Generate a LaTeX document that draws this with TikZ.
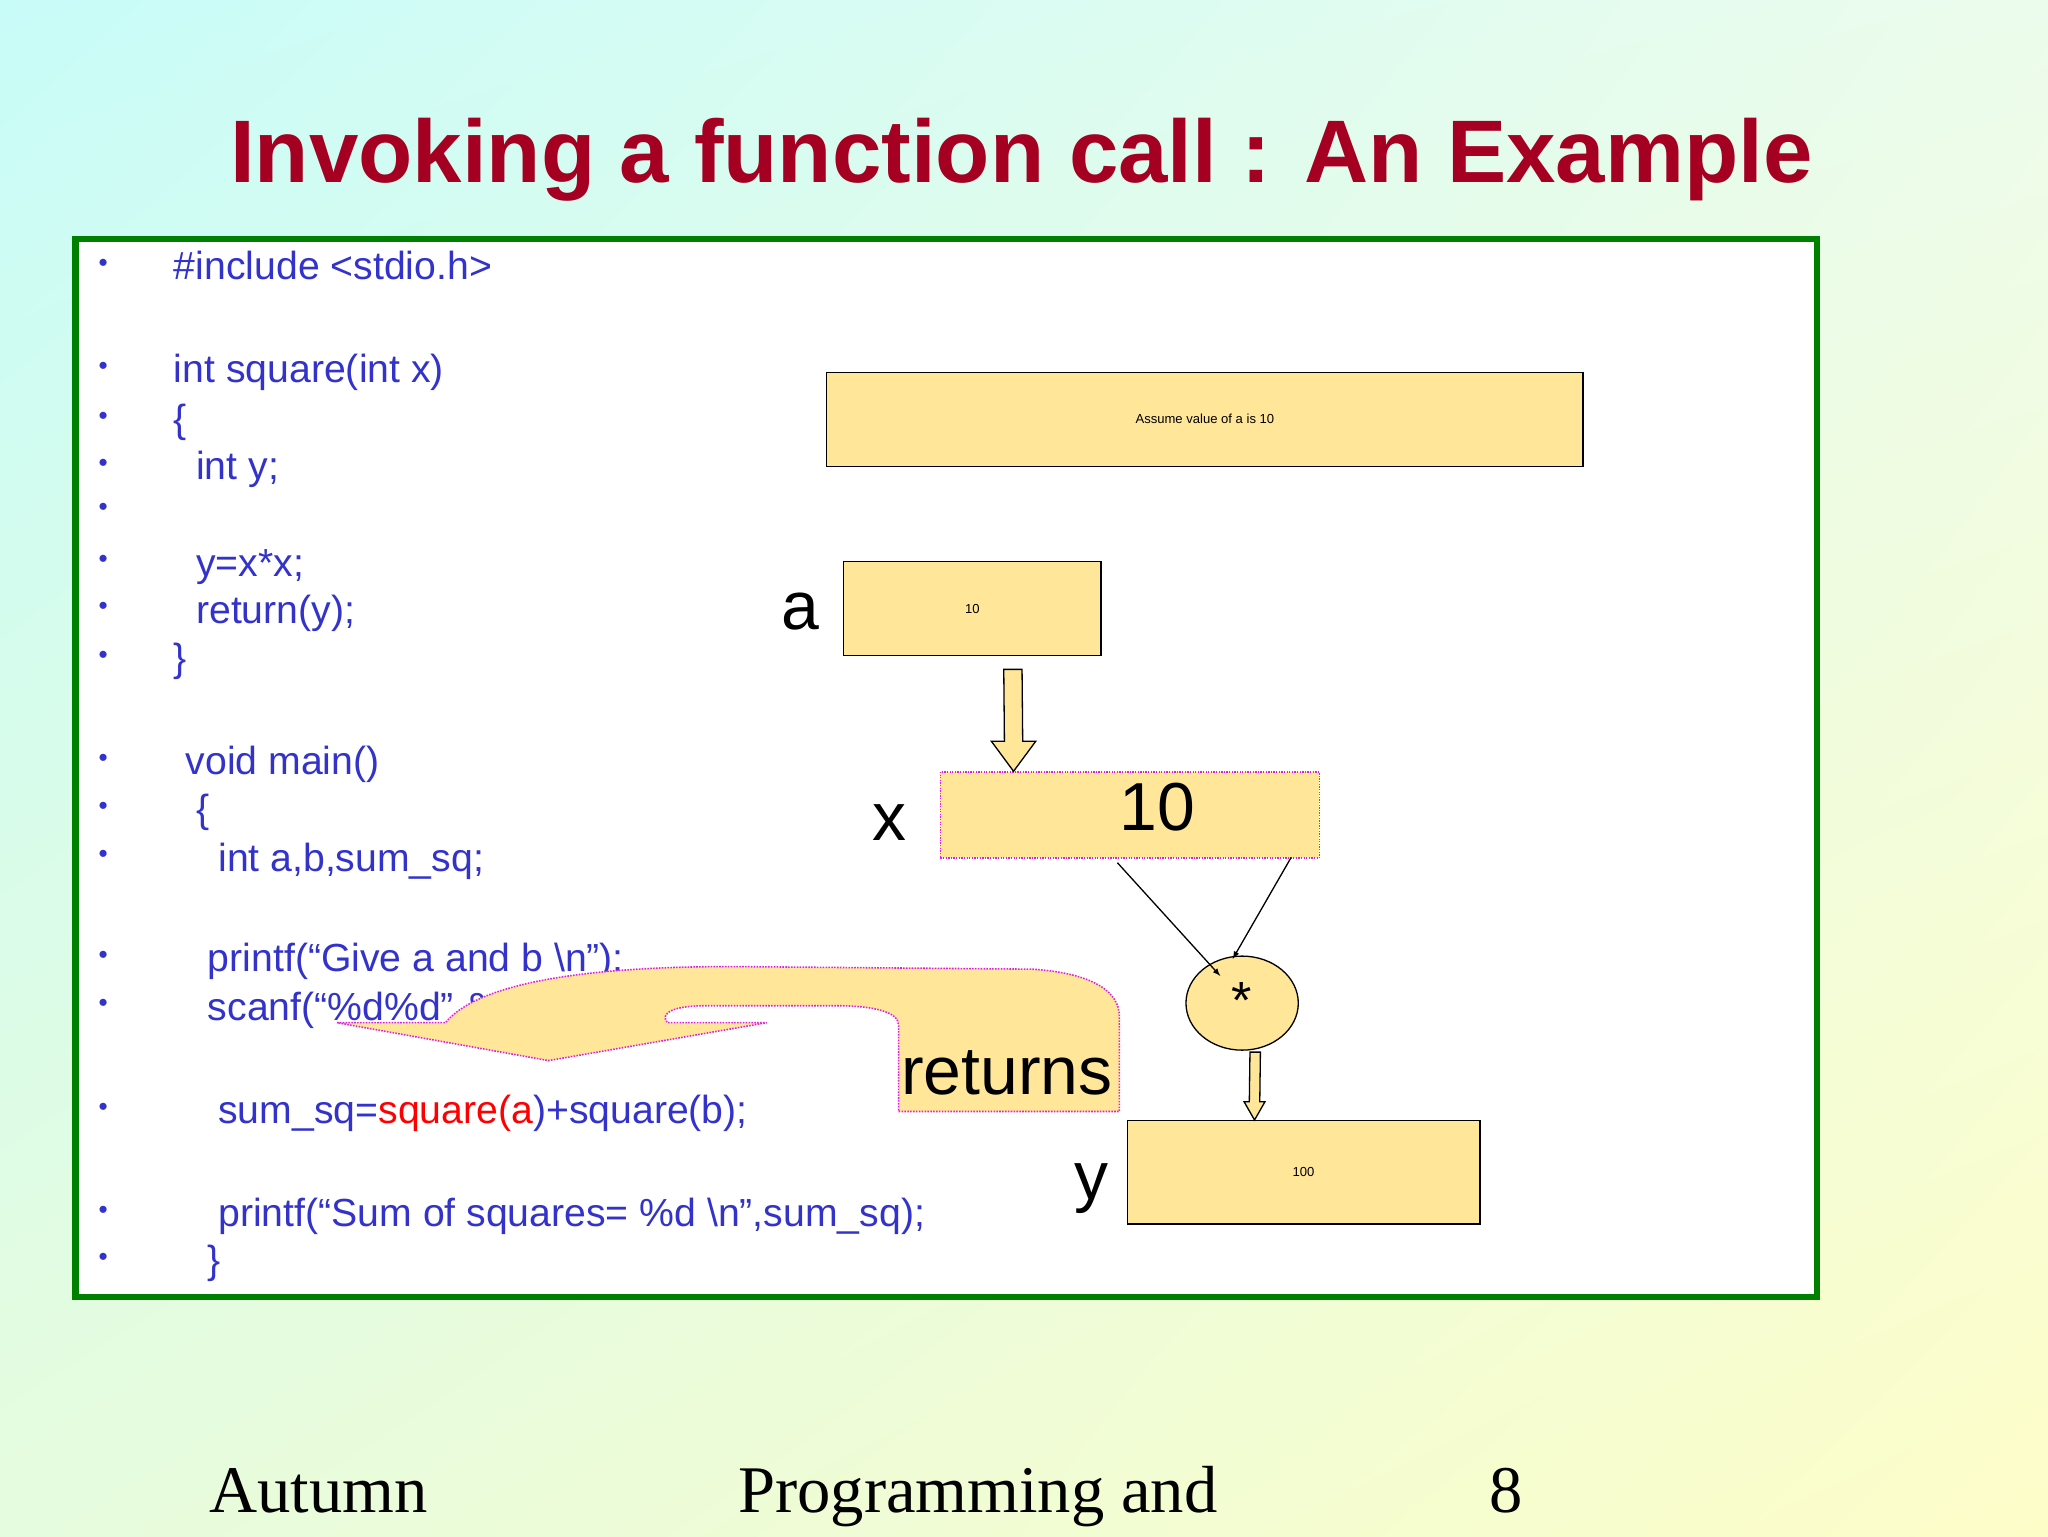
\documentclass[tikz,border=0pt]{standalone}
\usepackage{fontspec}
\setmainfont{Liberation Sans}
\newfontfamily\serifft{Liberation Serif}
\usetikzlibrary{calc,shapes.geometric,shadings}
\definecolor{codeblue}{HTML}{3333CC}
\definecolor{boxfill}{HTML}{FFE699}
\definecolor{titlered}{HTML}{A50021}
\definecolor{boxgreen}{HTML}{008000}
\definecolor{dotmag}{HTML}{E020E0}
\definecolor{bgul}{RGB}{200,252,248}
\definecolor{bgur}{RGB}{236,252,236}
\definecolor{bgll}{RGB}{230,252,222}
\definecolor{bglr}{RGB}{253,253,200}
\begin{document}
\begin{tikzpicture}[x=1pt,y=-1pt,
  code/.style={anchor=base west,inner sep=0,text=codeblue,font=\fontsize{30}{36}\selectfont},
  bul/.style={anchor=center,inner sep=0,text=codeblue,font=\fontsize{20}{24}\selectfont},
  big/.style={font=\fontsize{52}{60}\selectfont,inner sep=0},
  valbox/.style={draw=black,fill=boxfill,line width=1pt,inner sep=0},
  thin/.style={draw=black,line width=1pt,-latex}
]
\useasboundingbox (0,0) rectangle (1568,1176);
\shade[upper left=bgul,upper right=bgur,lower left=bgll,lower right=bglr]
  (0,0) rectangle (1568,1176);
\node[text=titlered,font=\fontsize{68}{80}\selectfont\bfseries] (title) at (782,122) {Invoking a function call : An Example};
\fill[white] (58,183) rectangle (1391,993);
\draw[boxgreen,line width=5pt] (58,183) rectangle (1391,993);
% bullets
\foreach \yy [count=\i] in {203,282,320,356,390,430,466,503,582,619,656,733,770,849,928,964}
  \node[bul] (b\i) at (79,\yy) {•};
\node[code] (l1) at (133,214) {\#include <stdio.h>};
\node[code] (l2) at (133,293) {int square(int x)};
\node[code] (l3) at (133,331) {\{};
\node[code] (l4) at (150,367) {int y;};
\node[code] (l6) at (150,441) {y=x*x;};
\node[code] (l7) at (150,477) {return(y);};
\node[code] (l8) at (133,514) {\}};
\node[code] (l9) at (142,593) {void main()};
\node[code] (l10) at (150,630) {\{};
\node[code] (l11) at (167,667) {int a,b,sum\_sq;};
\node[code] (l12) at (159,744) {printf(“Give a and b \textbackslash n”);};
\node[code] (l13) at (159,781) {scanf(“\%d\%d”,\&a,\&b);};
\node[code] (l14) at (167,860) {sum\_sq=\textcolor{red}{square(}\textcolor{red}{a})+square(b);};
\node[code] (l15) at (167,939) {printf(“Sum of squares= \%d \textbackslash n”,sum\_sq);};
\node[code] (l16) at (159,975) {\}};
% returns arrow
\filldraw[fill=boxfill,draw=dotmag,densely dotted,line width=1.2pt]
  (258,783) -- (341,783) .. controls (370,748) and (470,740) .. (560,740) -- (790,742)
  .. controls (838,745) and (857,760) .. (857,778) -- (857,851) -- (688,851) -- (688,785)
  .. controls (688,775) and (670,770) .. (640,770) -- (540,770)
  .. controls (515,770) and (505,776) .. (511,783) -- (587,783) -- (420,812) -- cycle;
\node[big,anchor=base] (ret) at (771,838) {returns};
% right diagram
\node[valbox,minimum width=579pt,minimum height=72pt] (assume) at (922.5,321) {Assume value of a is 10};
\node[valbox,minimum width=197pt,minimum height=72pt] (a) at (744.5,466) {10};
\node[big] (alab) at (613,468) {a};
\node[fill=boxfill,draw=dotmag,densely dotted,line width=1pt,minimum width=290pt,minimum height=66pt,inner sep=0] (x) at (865,624) {};
\node[big] (xval) at (886,618) {10};
\node[big] (xlab) at (681,630) {x};
\node[ellipse,draw=black,fill=boxfill,line width=1pt,minimum width=86pt,minimum height=72pt,inner sep=0] (star) at (951,768) {};
\node[font=\fontsize{40}{44}\selectfont,inner sep=0] (starlab) at (951,766) {*};
\node[valbox,minimum width=270pt,minimum height=79pt] (y) at (998,897.5) {100};
\node[big] (ylab) at (836,910) {y};
% block arrow a -> x
\filldraw[fill=boxfill,draw=black,line width=1pt]
  ($(a.south)+(24,10)$) -- ($(a.south)+(38,10)$) -- ($(x.north)+(-82,-23)$) -- ($(x.north)+(-72,-23)$)
  -- ($(x.north)+(-89,0)$) -- ($(x.north)+(-106,-23)$) -- ($(x.north)+(-96,-23)$) -- cycle;
% thin arrows
\draw[thin] ($(x.south west)+(136,3)$) -- ($(star.north west)+(14,5)$);
\draw[thin] ($(x.south east)+(-22,-1)$) -- ($(star.north east)+(-38,-8)$);
% small block arrow star -> y
\filldraw[fill=boxfill,draw=black,line width=1pt]
  ($(star.south)+(6,1)$) -- ($(star.south)+(14,1)$) -- ($(y.north west)+(102,-14)$) -- ($(y.north west)+(106,-14)$)
  -- ($(y.north west)+(98,0)$) -- ($(y.north west)+(90,-14)$) -- ($(y.north west)+(94,-14)$) -- cycle;
% footer
\node[font=\serifft\fontsize{51}{60}\selectfont,anchor=base west,inner sep=0] (f1) at (160,1158) {Autumn};
\node[font=\serifft\fontsize{51}{60}\selectfont,anchor=base west,inner sep=0] (f2) at (565,1158) {Programming and};
\node[font=\serifft\fontsize{51}{60}\selectfont,anchor=base west,inner sep=0] (f3) at (1140,1158) {8};
\end{tikzpicture}
\end{document}
